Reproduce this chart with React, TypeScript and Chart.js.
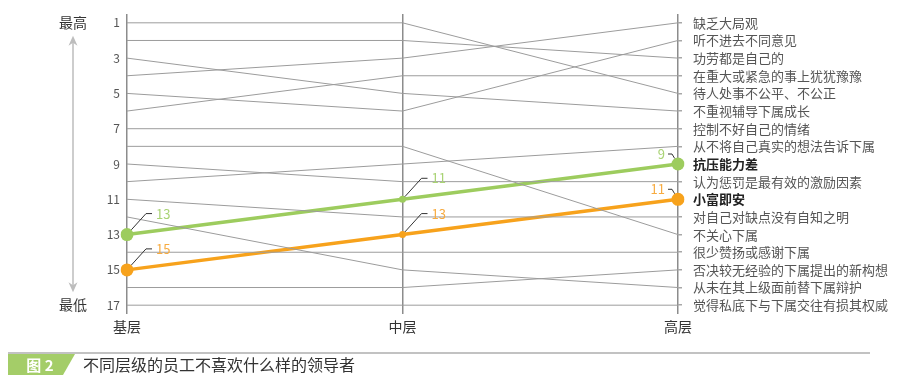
import { useEffect, useRef } from 'react';
import { Chart, registerables } from 'chart.js';

Chart.register(...registerables);

const FONT = '"Noto Sans CJK SC", "Noto Sans", sans-serif';

// x categories
const levels = ['基层', '中层', '高层'];
// left axis tick labels
const rankTicks = [1, 3, 5, 7, 9, 11, 13, 15, 17];
// right side labels, in 高层 rank order (1..17)
const traitLabels = [
  '缺乏大局观',
  '听不进去不同意见',
  '功劳都是自己的',
  '在重大或紧急的事上犹犹豫豫',
  '待人处事不公平、不公正',
  '不重视辅导下属成长',
  '控制不好自己的情绪',
  '从不将自己真实的想法告诉下属',
  '抗压能力差',
  '认为惩罚是最有效的激励因素',
  '小富即安',
  '对自己对缺点没有自知之明',
  '不关心下属',
  '很少赞扬或感谢下属',
  '否决较无经验的下属提出的新构想',
  '从未在其上级面前替下属辩护',
  '觉得私底下与下属交往有损其权威',
];
// rank at 基层, 中层, 高层 for the grey series
const otherRanks = [
  [1, 1, 5],
  [2, 2, 3],
  [3, 5, 6],
  [4, 3, 1],
  [5, 6, 2],
  [6, 4, 4],
  [7, 7, 7],
  [8, 8, 13],
  [9, 10, 10],
  [10, 9, 8],
  [11, 12, 12],
  [12, 15, 16],
  [14, 14, 14],
  [16, 16, 15],
  [17, 17, 17],
];
// highlighted series
const resilienceRanks = [13, 11, 9]; // 抗压能力差
const complacencyRanks = [15, 13, 11]; // 小富即安
const highlightNames = ['抗压能力差', '小富即安'];
const captionTag = '图 2';
const captionText = '不同层级的员工不喜欢什么样的领导者';
const topLabel = '最高';
const bottomLabel = '最低';

const GREEN = '#9dcc5e';
const GREEN_TEXT = '#a9d374';
const ORANGE = '#f7a21c';
const ORANGE_TEXT = '#f7ab40';

const leaderPlugin = {
  id: 'leaders',
  afterDatasetsDraw(chart: any) {
    const ctx = chart.ctx;
    chart.data.datasets.forEach((ds: any, di: number) => {
      if (!ds.labelColor) return;
      const meta = chart.getDatasetMeta(di);
      const last = meta.data.length - 1;
      meta.data.forEach((pt: any, i: number) => {
        const v = ds.data[i];
        const r = Array.isArray(ds.pointRadius) ? ds.pointRadius[i] : ds.pointRadius;
        const x = pt.x;
        const y = pt.y;
        let dx: number, dy: number, hx: number, tx: number, align: CanvasTextAlign;
        if (i < last) {
          dx = 19; dy = -21; hx = 6; tx = 4; align = 'left';
        } else {
          dx = -6; dy = -10; hx = -4; tx = -3; align = 'right';
        }
        const len = Math.hypot(dx, dy);
        const sx = x + (dx / len) * r;
        const sy = y + (dy / len) * r;
        ctx.save();
        ctx.strokeStyle = '#333';
        ctx.lineWidth = 1;
        ctx.beginPath();
        ctx.moveTo(sx, sy);
        ctx.lineTo(x + dx, y + dy);
        ctx.lineTo(x + dx + hx, y + dy);
        ctx.stroke();
        ctx.fillStyle = ds.labelColor;
        ctx.font = `13px ${FONT}`;
        ctx.textAlign = align;
        ctx.textBaseline = 'middle';
        ctx.fillText(String(v), x + dx + hx + tx, y + dy);
        ctx.restore();
      });
    });
  },
};

const decorPlugin = {
  id: 'decor',
  afterDraw(chart: any) {
    const ctx = chart.ctx;
    const ys = chart.scales.y;
    const yTop = ys.getPixelForValue(1);
    const yBot = ys.getPixelForValue(17);
    const ax = chart.chartArea.left - 54;
    ctx.save();
    // 最高 / 最低
    ctx.fillStyle = '#333';
    ctx.font = `14px ${FONT}`;
    ctx.textAlign = 'center';
    ctx.textBaseline = 'middle';
    ctx.fillText(topLabel, ax, yTop);
    ctx.fillText(bottomLabel, ax, yBot);
    // arrow
    const a1 = yTop + 13;
    const a2 = yBot - 13;
    ctx.strokeStyle = '#bdbdbd';
    ctx.fillStyle = '#bdbdbd';
    ctx.lineWidth = 1.5;
    ctx.beginPath();
    ctx.moveTo(ax, a1 + 6);
    ctx.lineTo(ax, a2 - 6);
    ctx.stroke();
    ctx.beginPath();
    ctx.moveTo(ax, a1);
    ctx.lineTo(ax - 4.5, a1 + 10);
    ctx.lineTo(ax, a1 + 7);
    ctx.lineTo(ax + 4.5, a1 + 10);
    ctx.closePath();
    ctx.fill();
    ctx.beginPath();
    ctx.moveTo(ax, a2);
    ctx.lineTo(ax - 4.5, a2 - 10);
    ctx.lineTo(ax, a2 - 7);
    ctx.lineTo(ax + 4.5, a2 - 10);
    ctx.closePath();
    ctx.fill();

    // caption
    const cy = 353;
    ctx.strokeStyle = '#c2c2c2';
    ctx.lineWidth = 2;
    ctx.beginPath();
    ctx.moveTo(8, cy);
    ctx.lineTo(870, cy);
    ctx.stroke();
    ctx.fillStyle = '#a4cd68';
    ctx.beginPath();
    ctx.moveTo(8, cy + 1);
    ctx.lineTo(75, cy + 1);
    ctx.lineTo(63, cy + 22);
    ctx.lineTo(8, cy + 22);
    ctx.closePath();
    ctx.fill();
    ctx.fillStyle = '#fff';
    ctx.font = `bold 15px ${FONT}`;
    ctx.textAlign = 'center';
    ctx.textBaseline = 'middle';
    ctx.fillText(captionTag, 40, cy + 12);
    ctx.fillStyle = '#333';
    ctx.font = `16px ${FONT}`;
    ctx.textAlign = 'left';
    ctx.fillText(captionText, 83, cy + 12);
    ctx.restore();
  },
};

const noPad = (s: any) => {
  s.paddingTop = 0;
  s.paddingBottom = 0;
};

export default function App() {
  const ref = useRef<HTMLCanvasElement | null>(null);

  useEffect(() => {
    if (!ref.current) return;
    Chart.defaults.font.family = FONT;

    const greyDatasets = otherRanks.map((r) => ({
      data: r,
      borderColor: '#9c9c9c',
      borderWidth: 1,
      pointRadius: 0,
      pointHoverRadius: 0,
      yAxisID: 'y',
    }));

    const chart = new Chart(ref.current, {
      type: 'line',
      data: {
        labels: levels,
        datasets: [
          ...greyDatasets,
          {
            data: complacencyRanks,
            borderColor: ORANGE,
            backgroundColor: ORANGE,
            borderWidth: 3.5,
            pointRadius: [6.5, 3.5, 6.5],
            pointBorderWidth: 0,
            yAxisID: 'y',
            labelColor: ORANGE_TEXT,
          } as any,
          {
            data: resilienceRanks,
            borderColor: GREEN,
            backgroundColor: GREEN,
            borderWidth: 3.5,
            pointRadius: [6.5, 3.5, 6.5],
            pointBorderWidth: 0,
            yAxisID: 'y',
            labelColor: GREEN_TEXT,
          } as any,
        ],
      },
      options: {
        responsive: false,
        animation: false,
        events: [],
        layout: { padding: { left: 97, right: 0, top: 14, bottom: 45 } },
        plugins: {
          legend: { display: false },
          tooltip: { enabled: false },
        },
        scales: {
          x: {
            type: 'category',
            offset: false,
            grid: {
              display: true,
              offset: false,
              drawTicks: false,
              color: '#8c8c8c',
              lineWidth: 1.5,
            },
            border: { display: false },
            ticks: {
              padding: 4,
              color: '#333',
              font: { size: 14, family: FONT },
              maxRotation: 0,
            },
            afterFit: (s: any) => {
              s.height = 24;
            },
          },
          y: {
            type: 'linear',
            position: 'left',
            reverse: true,
            min: 0.5,
            max: 17.5,
            grid: { display: false, drawTicks: false },
            border: { display: false },
            ticks: {
              padding: 7,
              color: '#555',
              font: { size: 12, family: FONT },
            },
            afterBuildTicks: (s: any) => {
              s.ticks = rankTicks.map((v) => ({ value: v }));
            },
            afterFit: (s: any) => {
              s.width = 30;
              noPad(s);
            },
          },
          yr: {
            type: 'linear',
            position: 'right',
            reverse: true,
            min: 0.5,
            max: 17.5,
            grid: {
              display: true,
              drawOnChartArea: false,
              drawTicks: true,
              tickLength: 4,
              color: '#a8a8a8',
              lineWidth: 1.5,
            },
            border: { display: false },
            ticks: {
              padding: 11,
              color: (c: any) =>
                highlightNames.includes(traitLabels[c.index]) ? '#222' : '#555',
              font: (c: any) => ({
                size: 13,
                family: FONT,
                weight: highlightNames.includes(traitLabels[c.index]) ? 'bold' : 'normal',
              }),
              callback: (v: any) => traitLabels[Number(v) - 1],
            },
            afterBuildTicks: (s: any) => {
              s.ticks = traitLabels.map((_, i) => ({ value: i + 1 }));
            },
            afterFit: (s: any) => {
              s.width = 227;
              noPad(s);
            },
          },
        },
      },
      plugins: [leaderPlugin, decorPlugin],
    } as any);

    return () => chart.destroy();
  }, []);

  return (
    <canvas
      ref={ref}
      width={905}
      height={383}
      style={{ position: 'absolute', left: 0, top: 0, width: 905, height: 383 }}
    />
  );
}
